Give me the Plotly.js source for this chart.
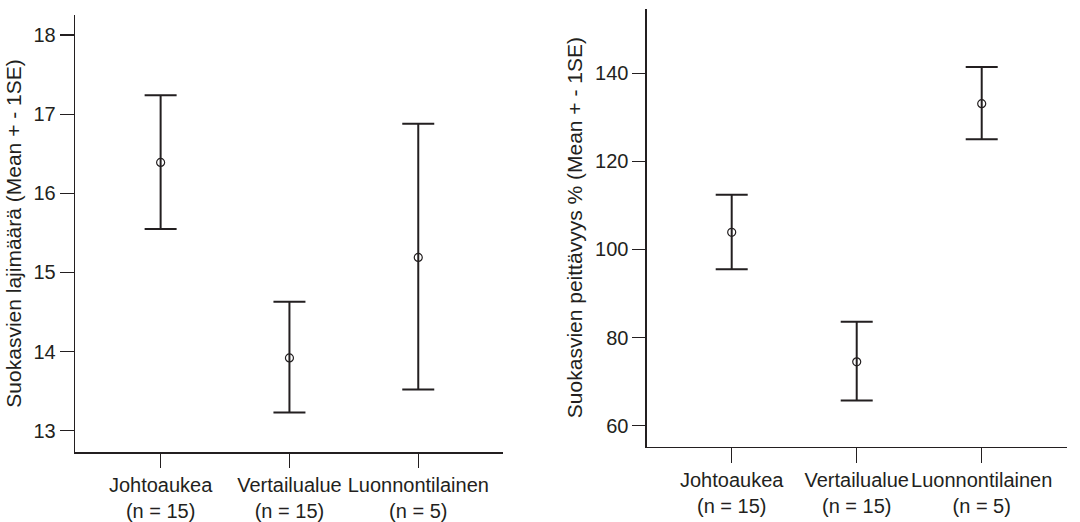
<!DOCTYPE html>
<html>
<head>
<meta charset="utf-8">
<script src="https://cdn.plot.ly/plotly-3.0.1.min.js"></script>
<style>
  html, body { margin: 0; padding: 0; background: #fff; }
  #chart { width: 1080px; height: 522px; }
</style>
</head>
<body>
<div id="chart"></div>
<script>
// Categories and tick labels
const categories = [0, 1, 2];
const tickLabels = ["Johtoaukea<br>(n = 15)", "Vertailualue<br>(n = 15)", "Luonnontilainen<br>(n = 5)"];

// Left panel: species richness (mean, mean+1SE, mean-1SE)
const richMean  = [16.39, 13.92, 15.19];
const richUpper = [17.24, 14.63, 16.88];
const richLower = [15.55, 13.23, 13.52];
const richTicks = [13, 14, 15, 16, 17, 18];

// Right panel: cover % (mean, mean+1SE, mean-1SE)
const coverMean  = [103.9, 74.5, 133.1];
const coverUpper = [112.4, 83.6, 141.4];
const coverLower = [95.5, 65.7, 125.0];
const coverTicks = [60, 80, 100, 120, 140];

const ink = "#231f20";
const fontFam = '"Liberation Sans", Arial, Helvetica, sans-serif';

function trace(mean, upper, lower, xa, ya) {
  return {
    type: "scatter", mode: "markers",
    x: categories, y: mean, xaxis: xa, yaxis: ya,
    marker: { symbol: "circle-open", size: 8, color: ink, line: { width: 1.2, color: ink } },
    error_y: {
      type: "data", symmetric: false,
      array: upper.map((u, i) => u - mean[i]),
      arrayminus: lower.map((l, i) => mean[i] - l),
      color: ink, thickness: 2, width: 16
    },
    showlegend: false, hoverinfo: "skip"
  };
}

const axisCommon = {
  showline: true, linecolor: ink, linewidth: 1.3,
  showgrid: false, zeroline: false,
  ticks: "outside", tickcolor: ink, tickwidth: 1.3,
  tickfont: { family: fontFam, size: 20, color: ink },
  fixedrange: true
};
const titleFont = { family: fontFam, size: 21, color: ink };

const layout = {
  width: 1080, height: 522,
  margin: { l: 0, r: 0, t: 0, b: 0 },
  paper_bgcolor: "#fff", plot_bgcolor: "#fff",
  font: { family: fontFam, color: ink },
  xaxis: Object.assign({}, axisCommon, {
    domain: [0.0694, 0.466], range: [-0.665, 2.66],
    tickmode: "array", tickvals: categories, ticktext: tickLabels,
    tickangle: 0, ticklen: 14, anchor: "y"
  }),
  yaxis: Object.assign({}, axisCommon, {
    domain: [0.1335, 0.972], range: [12.727, 18.258],
    tickmode: "array", tickvals: richTicks,
    ticklen: 14, anchor: "x",
    title: { text: "Suokasvien lajimäärä (Mean + - 1SE)", font: titleFont, standoff: 6 }
  }),
  xaxis2: Object.assign({}, axisCommon, {
    domain: [0.5988, 0.9877], range: [-0.68, 2.68],
    tickmode: "array", tickvals: categories, ticktext: tickLabels,
    tickangle: 0, ticklen: 15, anchor: "y2"
  }),
  yaxis2: Object.assign({}, axisCommon, {
    domain: [0.1443, 0.9837], range: [55.23, 154.7],
    tickmode: "array", tickvals: coverTicks,
    ticklen: 13, anchor: "x2",
    title: { text: "Suokasvien peittävyys % (Mean + - 1SE)", font: titleFont, standoff: 6 }
  })
};

Plotly.newPlot("chart", [
  trace(richMean, richUpper, richLower, "x", "y"),
  trace(coverMean, coverUpper, coverLower, "x2", "y2")
], layout, { displayModeBar: false, staticPlot: true });
</script>
</body>
</html>
